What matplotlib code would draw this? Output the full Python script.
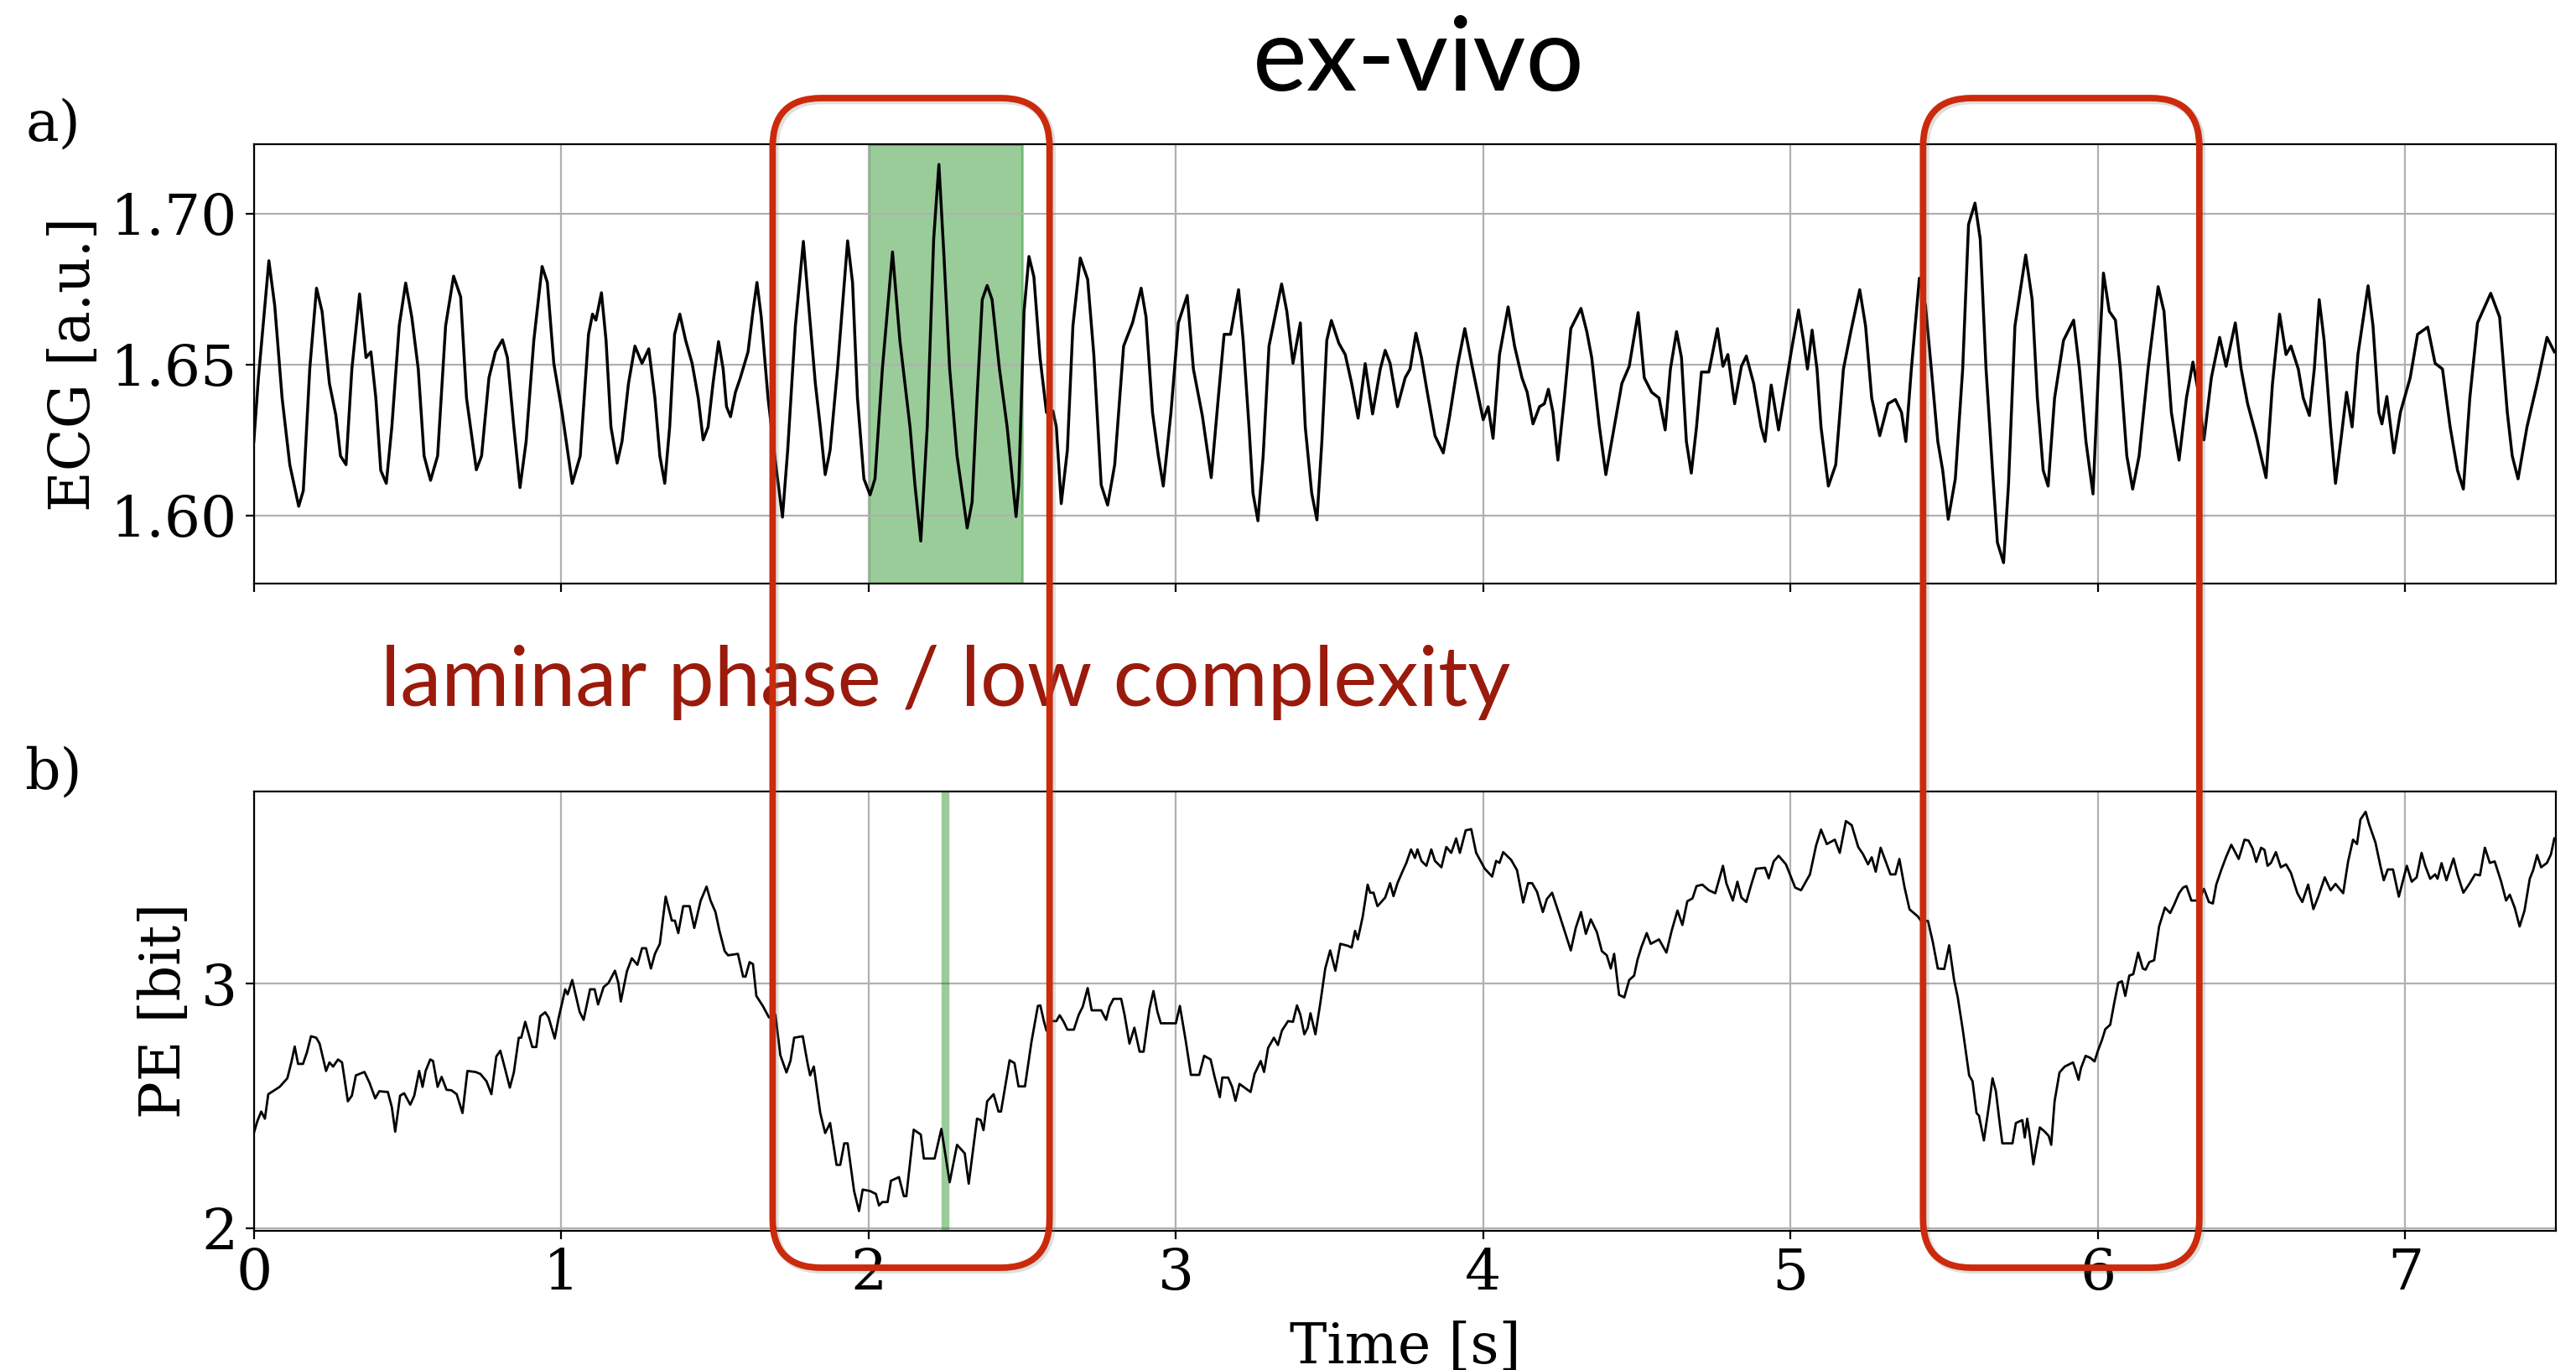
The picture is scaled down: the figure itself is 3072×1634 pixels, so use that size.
import matplotlib
matplotlib.use("Agg")
import matplotlib.pyplot as plt
from matplotlib.patches import FancyBboxPatch
from matplotlib.ticker import FormatStrFormatter

# ---------------- data ----------------
ecg_t = [0.000,0.015,0.049,0.068,0.092,0.117,0.146,0.161,0.182,0.204,0.222,0.246,0.267,0.282,0.300,0.319,0.344,0.365,0.381,0.397,
0.413,0.431,0.449,0.473,0.494,0.514,0.535,0.554,0.575,0.598,0.624,0.650,0.673,0.692,0.724,0.741,0.765,0.786,0.809,0.825,
0.846,0.866,0.886,0.911,0.938,0.955,0.976,1.003,1.036,1.062,1.089,1.102,1.113,1.131,1.146,1.162,1.182,1.198,1.219,1.240,
1.263,1.285,1.305,1.321,1.337,1.353,1.369,1.386,1.405,1.426,1.446,1.462,1.478,1.494,1.512,1.527,1.538,1.551,1.567,1.583,
1.608,1.624,1.637,1.651,1.673,1.697,1.720,1.737,1.762,1.788,1.807,1.827,1.843,1.859,1.875,1.899,1.932,1.948,1.964,1.985,
2.005,2.021,2.045,2.078,2.102,2.135,2.151,2.170,2.191,2.212,2.229,2.245,2.264,2.288,2.308,2.321,2.337,2.353,2.370,2.386,
2.402,2.426,2.451,2.480,2.489,2.506,2.522,2.538,2.558,2.579,2.600,2.611,2.627,2.647,2.665,2.689,2.713,2.733,2.757,2.778,
2.801,2.830,2.859,2.887,2.903,2.924,2.943,2.959,2.984,3.008,3.037,3.057,3.086,3.115,3.138,3.157,3.178,3.191,3.204,3.219,
3.238,3.251,3.267,3.284,3.303,3.344,3.361,3.381,3.405,3.421,3.442,3.459,3.475,3.491,3.506,3.530,3.551,3.572,3.593,3.616,
3.640,3.665,3.681,3.697,3.721,3.746,3.762,3.781,3.799,3.818,3.843,3.870,3.891,3.916,3.940,3.964,3.989,4.000,4.016,4.032,
4.053,4.081,4.102,4.126,4.143,4.162,4.183,4.199,4.212,4.227,4.243,4.264,4.285,4.318,4.337,4.353,4.378,4.399,4.418,4.451,
4.475,4.504,4.524,4.548,4.572,4.592,4.609,4.629,4.645,4.661,4.677,4.694,4.710,4.734,4.762,4.780,4.796,4.818,4.840,4.856,
4.880,4.904,4.917,4.937,4.961,5.002,5.026,5.042,5.055,5.070,5.086,5.099,5.123,5.147,5.172,5.196,5.225,5.244,5.264,5.290,
5.317,5.341,5.361,5.375,5.393,5.419,5.439,5.458,5.479,5.495,5.513,5.536,5.560,5.579,5.600,5.617,5.636,5.657,5.673,5.693,
5.709,5.730,5.765,5.786,5.803,5.822,5.838,5.859,5.888,5.921,5.940,5.961,5.984,6.002,6.018,6.037,6.057,6.073,6.094,6.113,
6.134,6.163,6.196,6.215,6.239,6.264,6.288,6.309,6.325,6.345,6.369,6.396,6.417,6.447,6.466,6.487,6.515,6.547,6.568,6.591,
6.612,6.628,6.652,6.668,6.688,6.704,6.720,6.736,6.757,6.773,6.790,6.809,6.827,6.846,6.879,6.895,6.914,6.924,6.940,6.963,
6.984,7.016,7.040,7.073,7.097,7.121,7.146,7.170,7.189,7.210,7.235,7.278,7.307,7.332,7.348,7.367,7.396,7.429,7.461,7.485]

ecg_v = [1.6245,1.6456,1.6844,1.6695,1.6389,1.6168,1.6030,1.6082,1.6486,1.6753,1.6676,1.6437,1.6331,1.6197,1.6168,1.6485,1.6734,1.6523,1.6542,1.6389,
1.6149,1.6106,1.6293,1.6628,1.6770,1.6657,1.6485,1.6197,1.6116,1.6197,1.6628,1.6793,1.6724,1.6389,1.6151,1.6197,1.6456,1.6542,1.6582,1.6523,
1.6293,1.6092,1.6245,1.6580,1.6825,1.6772,1.6504,1.6341,1.6106,1.6197,1.6600,1.6667,1.6647,1.6738,1.6580,1.6293,1.6173,1.6245,1.6437,1.6561,
1.6504,1.6552,1.6389,1.6197,1.6106,1.6293,1.6600,1.6667,1.6580,1.6504,1.6389,1.6250,1.6293,1.6437,1.6576,1.6485,1.6360,1.6327,1.6408,1.6456,
1.6542,1.6676,1.6772,1.6657,1.6389,1.6178,1.5994,1.6216,1.6628,1.6908,1.6676,1.6437,1.6293,1.6135,1.6216,1.6485,1.6910,1.6772,1.6389,1.6121,
1.6068,1.6121,1.6485,1.6873,1.6580,1.6293,1.6101,1.5915,1.6293,1.6916,1.7163,1.6868,1.6485,1.6197,1.6054,1.5958,1.6044,1.6389,1.6715,1.6762,
1.6715,1.6485,1.6293,1.5996,1.6101,1.6676,1.6858,1.6791,1.6523,1.6341,1.6346,1.6293,1.6039,1.6216,1.6628,1.6853,1.6782,1.6533,1.6101,1.6034,
1.6168,1.6561,1.6638,1.6753,1.6657,1.6341,1.6197,1.6097,1.6341,1.6638,1.6729,1.6485,1.6331,1.6125,1.6389,1.6600,1.6600,1.6676,1.6748,1.6580,
1.6293,1.6073,1.5982,1.6197,1.6561,1.6767,1.6676,1.6504,1.6638,1.6293,1.6073,1.5985,1.6245,1.6580,1.6646,1.6571,1.6533,1.6437,1.6322,1.6503,
1.6336,1.6485,1.6547,1.6504,1.6360,1.6456,1.6485,1.6604,1.6523,1.6408,1.6264,1.6207,1.6331,1.6494,1.6619,1.6494,1.6370,1.6317,1.6360,1.6255,
1.6533,1.6691,1.6561,1.6456,1.6408,1.6303,1.6360,1.6370,1.6418,1.6341,1.6183,1.6389,1.6619,1.6686,1.6609,1.6523,1.6293,1.6135,1.6245,1.6437,
1.6494,1.6672,1.6456,1.6408,1.6389,1.6283,1.6485,1.6609,1.6523,1.6245,1.6140,1.6293,1.6475,1.6475,1.6619,1.6494,1.6533,1.6370,1.6494,1.6528,
1.6437,1.6293,1.6245,1.6432,1.6283,1.6542,1.6681,1.6580,1.6485,1.6614,1.6485,1.6293,1.6097,1.6168,1.6485,1.6609,1.6748,1.6628,1.6389,1.6264,
1.6370,1.6384,1.6341,1.6245,1.6485,1.6786,1.6695,1.6485,1.6245,1.6149,1.5987,1.6121,1.6485,1.6964,1.7035,1.6916,1.6485,1.6149,1.5910,1.5843,
1.6101,1.6628,1.6863,1.6715,1.6389,1.6149,1.6097,1.6389,1.6580,1.6647,1.6485,1.6245,1.6071,1.6485,1.6803,1.6676,1.6647,1.6485,1.6197,1.6087,
1.6197,1.6485,1.6758,1.6676,1.6341,1.6183,1.6389,1.6508,1.6418,1.6250,1.6456,1.6590,1.6494,1.6638,1.6485,1.6370,1.6264,1.6125,1.6437,1.6667,
1.6533,1.6561,1.6485,1.6389,1.6331,1.6485,1.6715,1.6580,1.6293,1.6106,1.6245,1.6408,1.6293,1.6533,1.6761,1.6628,1.6341,1.6303,1.6394,1.6207,
1.6341,1.6456,1.6600,1.6624,1.6504,1.6485,1.6293,1.6149,1.6087,1.6389,1.6638,1.6736,1.6657,1.6341,1.6197,1.6121,1.6293,1.6437,1.6590,1.6542]

pe_t = [0.000,0.011,0.024,0.036,0.047,0.084,0.109,0.122,0.133,0.144,0.160,0.173,0.186,0.203,0.214,0.235,0.246,0.258,0.274,0.287,
0.306,0.319,0.332,0.360,0.376,0.395,0.408,0.436,0.449,0.460,0.476,0.489,0.509,0.522,0.538,0.549,0.559,0.574,0.583,0.598,
0.611,0.627,0.643,0.660,0.679,0.695,0.721,0.737,0.757,0.773,0.789,0.802,0.818,0.833,0.846,0.862,0.870,0.883,0.895,0.906,
0.919,0.932,0.948,0.959,0.979,0.992,1.003,1.013,1.021,1.036,1.049,1.060,1.073,1.094,1.109,1.120,1.138,1.154,1.175,1.186,
1.194,1.214,1.230,1.248,1.263,1.276,1.292,1.305,1.321,1.340,1.360,1.370,1.381,1.397,1.418,1.433,1.454,1.473,1.486,1.502,
1.515,1.532,1.543,1.575,1.592,1.600,1.613,1.624,1.635,1.656,1.676,1.697,1.713,1.733,1.746,1.758,1.786,1.802,1.810,1.822,
1.843,1.859,1.875,1.896,1.908,1.921,1.932,1.953,1.969,1.981,2.005,2.024,2.034,2.045,2.062,2.073,2.099,2.115,2.123,2.147,
2.170,2.180,2.215,2.237,2.264,2.288,2.313,2.326,2.353,2.365,2.374,2.386,2.407,2.423,2.431,2.459,2.475,2.488,2.509,2.530,
2.551,2.559,2.571,2.579,2.595,2.611,2.622,2.635,2.647,2.668,2.684,2.697,2.705,2.713,2.726,2.757,2.773,2.784,2.797,2.822,
2.833,2.849,2.865,2.882,2.895,2.914,2.927,2.940,2.951,3.000,3.013,3.032,3.049,3.076,3.092,3.113,3.126,3.143,3.151,3.170,
3.183,3.194,3.207,3.243,3.256,3.276,3.287,3.300,3.319,3.332,3.345,3.365,3.381,3.394,3.405,3.418,3.429,3.438,3.454,3.470,
3.486,3.502,3.519,3.535,3.559,3.572,3.583,3.592,3.608,3.624,3.632,3.643,3.656,3.681,3.697,3.708,3.721,3.737,3.750,3.765,
3.778,3.786,3.799,3.815,3.831,3.843,3.864,3.880,3.896,3.912,3.924,3.943,3.961,3.977,4.005,4.029,4.042,4.053,4.065,4.091,
4.110,4.130,4.146,4.159,4.175,4.194,4.207,4.224,4.248,4.269,4.285,4.301,4.318,4.334,4.350,4.370,4.386,4.402,4.415,4.426,
4.442,4.459,4.475,4.491,4.502,4.515,4.532,4.545,4.572,4.596,4.613,4.632,4.648,4.664,4.681,4.694,4.713,4.734,4.755,4.780,
4.791,4.812,4.827,4.840,4.856,4.872,4.888,4.917,4.929,4.945,4.961,4.985,5.015,5.034,5.063,5.083,5.099,5.118,5.144,5.160,
5.180,5.199,5.220,5.236,5.252,5.264,5.277,5.293,5.306,5.325,5.341,5.354,5.371,5.387,5.414,5.426,5.447,5.463,5.479,5.500,
5.516,5.532,5.544,5.560,5.581,5.592,5.605,5.613,5.629,5.646,5.657,5.668,5.681,5.689,5.722,5.733,5.754,5.762,5.770,5.778,
5.790,5.799,5.811,5.827,5.840,5.848,5.859,5.875,5.892,5.919,5.927,5.937,5.945,5.960,5.976,5.989,6.000,6.013,6.024,6.040,
6.053,6.066,6.078,6.089,6.102,6.115,6.131,6.146,6.155,6.167,6.183,6.199,6.218,6.235,6.248,6.264,6.277,6.288,6.304,6.328,
6.345,6.361,6.374,6.385,6.401,6.417,6.434,6.458,6.477,6.490,6.503,6.515,6.531,6.542,6.552,6.563,6.579,6.595,6.612,6.628,
6.649,6.665,6.684,6.701,6.717,6.738,6.757,6.773,6.798,6.814,6.830,6.843,6.854,6.871,6.882,6.903,6.919,6.930,6.943,6.960,
6.979,7.005,7.021,7.037,7.053,7.065,7.081,7.097,7.105,7.118,7.134,7.157,7.170,7.189,7.210,7.227,7.243,7.259,7.275,7.291,
7.312,7.328,7.340,7.356,7.372,7.388,7.405,7.416,7.429,7.442,7.461,7.474,7.485]

pe_v = [2.388,2.435,2.476,2.447,2.547,2.577,2.612,2.677,2.742,2.671,2.671,2.719,2.784,2.778,2.754,2.642,2.677,2.660,2.689,2.677,
2.518,2.541,2.624,2.638,2.595,2.530,2.559,2.556,2.494,2.394,2.541,2.551,2.504,2.541,2.642,2.577,2.642,2.689,2.683,2.577,
2.618,2.565,2.563,2.547,2.470,2.642,2.638,2.630,2.600,2.547,2.701,2.725,2.648,2.574,2.636,2.778,2.778,2.843,2.790,2.740,
2.740,2.866,2.882,2.861,2.775,2.861,2.920,2.976,2.955,3.014,2.943,2.884,2.851,2.976,2.976,2.914,2.985,3.002,3.052,3.002,
2.926,3.050,3.103,3.076,3.144,3.144,3.061,3.121,3.162,3.355,3.257,3.257,3.206,3.316,3.316,3.227,3.339,3.396,3.339,3.292,
3.215,3.132,3.115,3.121,3.028,3.028,3.087,3.079,2.949,2.908,2.861,2.872,2.707,2.636,2.683,2.778,2.784,2.671,2.624,2.660,
2.470,2.388,2.429,2.258,2.258,2.346,2.346,2.151,2.069,2.157,2.151,2.139,2.092,2.106,2.106,2.193,2.208,2.130,2.130,2.402,
2.382,2.284,2.284,2.405,2.187,2.340,2.305,2.181,2.447,2.441,2.400,2.518,2.547,2.476,2.476,2.686,2.674,2.579,2.579,2.760,
2.908,2.910,2.843,2.807,2.846,2.846,2.870,2.843,2.811,2.811,2.872,2.905,2.943,2.981,2.890,2.890,2.851,2.905,2.937,2.937,
2.872,2.754,2.819,2.721,2.721,2.896,2.969,2.884,2.837,2.837,2.908,2.766,2.626,2.626,2.704,2.689,2.618,2.535,2.615,2.615,
2.577,2.520,2.589,2.556,2.630,2.683,2.638,2.736,2.778,2.748,2.807,2.846,2.843,2.910,2.872,2.792,2.819,2.878,2.792,2.920,
3.061,3.135,3.052,3.162,3.154,3.147,3.215,3.180,3.274,3.404,3.371,3.371,3.316,3.351,3.410,3.357,3.410,3.457,3.493,3.548,
3.513,3.548,3.501,3.481,3.548,3.501,3.475,3.558,3.534,3.593,3.534,3.626,3.631,3.534,3.469,3.437,3.501,3.493,3.537,3.505,
3.463,3.331,3.410,3.410,3.375,3.292,3.345,3.371,3.280,3.197,3.135,3.227,3.292,3.203,3.262,3.209,3.132,3.115,3.061,3.121,
2.953,2.943,3.014,3.032,3.097,3.150,3.206,3.162,3.180,3.126,3.215,3.298,3.239,3.336,3.348,3.398,3.404,3.381,3.369,3.481,
3.410,3.339,3.416,3.351,3.333,3.404,3.469,3.473,3.430,3.499,3.522,3.487,3.392,3.381,3.446,3.564,3.629,3.570,3.588,3.534,
3.664,3.647,3.558,3.528,3.487,3.516,3.457,3.555,3.511,3.446,3.446,3.509,3.392,3.303,3.274,3.253,3.256,3.168,3.061,3.059,
3.156,3.014,2.943,2.813,2.624,2.600,2.470,2.459,2.358,2.506,2.612,2.559,2.423,2.346,2.346,2.429,2.441,2.370,2.447,2.382,
2.260,2.329,2.411,2.394,2.376,2.340,2.518,2.636,2.660,2.677,2.648,2.606,2.654,2.704,2.695,2.681,2.725,2.768,2.813,2.831,
2.920,3.002,3.009,2.949,3.032,3.038,3.126,3.061,3.056,3.087,3.095,3.233,3.310,3.288,3.322,3.369,3.392,3.398,3.339,3.339,
3.387,3.333,3.327,3.404,3.463,3.517,3.567,3.509,3.588,3.584,3.552,3.497,3.555,3.546,3.481,3.493,3.537,3.475,3.487,3.452,
3.369,3.333,3.404,3.304,3.355,3.434,3.381,3.407,3.369,3.499,3.588,3.570,3.670,3.702,3.652,3.576,3.481,3.422,3.466,3.466,
3.355,3.481,3.416,3.434,3.534,3.481,3.428,3.446,3.428,3.492,3.422,3.511,3.446,3.371,3.410,3.446,3.442,3.555,3.493,3.499,
3.416,3.339,3.363,3.310,3.233,3.298,3.428,3.463,3.525,3.475,3.493,3.528,3.593]

x_ticks = [0, 1, 2, 3, 4, 5, 6, 7]
ecg_ticks = [1.60, 1.65, 1.70]
pe_ticks = [2, 3]
highlight_window = (2.0, 2.5)      # green window in panel a
pe_marker_time = 2.248             # green marker in panel b
box_spans = [(1.688, 2.589), (5.431, 6.330)]   # red rounded boxes (time)

# ---------------- figure ----------------
plt.rcParams['font.family'] = ['DejaVu Serif']
W, H, DPI = 3072, 1634, 200
fig = plt.figure(figsize=(W / DPI, H / DPI), dpi=DPI)
FS_TICK = 24.5
FS_LAB = 24

left, right = 302.7, 3048.0
ax1 = fig.add_axes([left / W, 1 - 696.0 / H, (right - left) / W, (696.0 - 172.4) / H])
ax2 = fig.add_axes([left / W, 1 - 1467.5 / H, (right - left) / W, (1467.5 - 944.0) / H])

ax1.plot(ecg_t, ecg_v, color="black", lw=1.25, zorder=3)
ax1.axvspan(*highlight_window, color="green", alpha=0.4, zorder=1)
ax1.set_xlim(0, 7.49)
ax1.set_ylim(1.5774, 1.7229)
ax1.set_yticks(ecg_ticks)
ax1.yaxis.set_major_formatter(FormatStrFormatter("%.2f"))
ax1.set_xticks(x_ticks)
ax1.tick_params(labelbottom=False, labelsize=FS_TICK)
ax1.set_ylabel("ECG [a.u.]", fontsize=FS_LAB)
ax1.grid(True, zorder=0)

ax2.plot(pe_t, pe_v, color="black", lw=1.0, zorder=3)
ax2.axvline(pe_marker_time, color="green", alpha=0.4, lw=3.4, zorder=2)
ax2.set_xlim(0, 7.49)
ax2.set_ylim(1.99, 3.785)
ax2.set_yticks(pe_ticks)
ax2.set_xticks(x_ticks)
ax2.tick_params(labelsize=FS_TICK)
ax2.set_ylabel("PE [bit]", fontsize=FS_LAB)
ax2.set_xlabel("Time [s]", fontsize=FS_LAB, labelpad=8)
ax2.grid(True, zorder=0)

fig.text(31 / W, 1 - 167 / H, "a)", fontsize=FS_LAB, ha="left", va="baseline")
fig.text(29 / W, 1 - 940 / H, "b)", fontsize=FS_LAB, ha="left", va="baseline")

fig.text(1692 / W, 1 - 108 / H, "ex-vivo", fontsize=44, family=["Lato", "DejaVu Sans"],
         ha="center", va="baseline", color="black")
fig.text(454 / W, 1 - 842 / H, "laminar phase / low complexity", fontsize=35.5,
         family=["Lato", "DejaVu Sans"], ha="left", va="baseline", color="#9a1a0c")

# red rounded boxes, positioned from their time spans
box_top_px, box_bot_px = 117.0, 1512.0
radius_in = 0.29
for t0, t1 in box_spans:
    x0 = ax1.transData.transform((t0, 1.6))[0] / DPI
    x1 = ax1.transData.transform((t1, 1.6))[0] / DPI
    y0 = (H - box_bot_px) / DPI
    y1 = (H - box_top_px) / DPI
    shadow = FancyBboxPatch((x0 + 0.012, y0 - 0.012), x1 - x0, y1 - y0,
                            boxstyle=f"round,pad=0,rounding_size={radius_in}",
                            transform=fig.dpi_scale_trans, fill=False,
                            ec="gray", alpha=0.25, lw=3.5, zorder=9)
    box = FancyBboxPatch((x0, y0), x1 - x0, y1 - y0,
                         boxstyle=f"round,pad=0,rounding_size={radius_in}",
                         transform=fig.dpi_scale_trans, fill=False,
                         ec="#cc2a0c", lw=2.8, zorder=10)
    fig.add_artist(shadow)
    fig.add_artist(box)

fig.savefig("out.png", dpi=DPI)
